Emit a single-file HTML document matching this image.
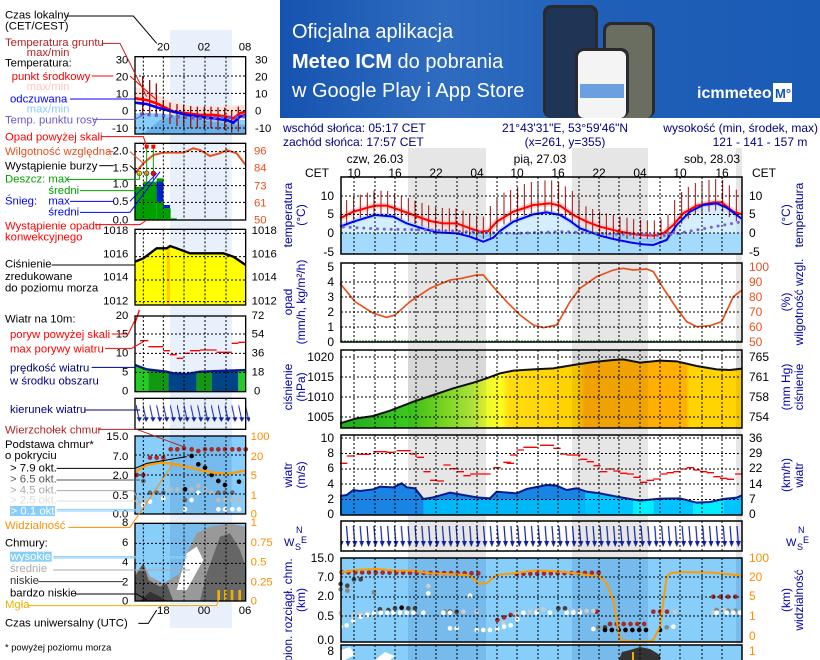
<!DOCTYPE html>
<html><head><meta charset="utf-8">
<style>
html,body{margin:0;padding:0;background:#fff;}
svg{display:block;font-family:"Liberation Sans",sans-serif;}
</style></head>
<body>
<svg width="820" height="660" viewBox="0 0 820 660" xmlns="http://www.w3.org/2000/svg">
<defs>
<linearGradient id="bg" x1="0" y1="0" x2="1" y2="0">
<stop offset="0" stop-color="#1553b0"/><stop offset="0.3" stop-color="#2f6cc0"/><stop offset="0.6" stop-color="#1f5fb8"/><stop offset="1" stop-color="#1a5bb5"/></linearGradient>
<linearGradient id="pg" x1="180" y1="0" x2="1386" y2="0" gradientUnits="userSpaceOnUse">
<stop offset="0" stop-color="#1eaa1e"/><stop offset="0.17" stop-color="#3cc81e"/><stop offset="0.25" stop-color="#78e020"/><stop offset="0.33" stop-color="#b8f040"/><stop offset="0.36" stop-color="#e8fa30"/><stop offset="0.4" stop-color="#ffff20"/><stop offset="0.42" stop-color="#ffdc10"/><stop offset="0.59" stop-color="#ffd000"/><stop offset="0.61" stop-color="#ffac00"/><stop offset="0.86" stop-color="#ffb000"/><stop offset="0.87" stop-color="#ffd400"/><stop offset="1" stop-color="#ffd400"/></linearGradient>
<pattern id="arr" x="345" y="521" width="6.85" height="30" patternUnits="userSpaceOnUse">
<line x1="1.5" y1="5" x2="3" y2="24" stroke="#1020a0" stroke-width="1.2"/>
<polygon points="0.5,20 5.5,20 3,26" fill="#1020a0"/>
</pattern>
<pattern id="larr" x="408" y="0" width="20.5" height="1400" patternUnits="userSpaceOnUse">
<line x1="0" y1="1215" x2="10" y2="1260" stroke="#1020a0" stroke-width="3"/>
<polygon points="2,1252 18,1252 10,1266" fill="#1020a0"/>
</pattern>
<clipPath id="wc"><polygon points="180,285 180,228 200,225 220,210 240,213 280,208 300,200 340,202 365,190 380,202 405,205 430,237 460,232 510,218 550,225 590,232 630,235 650,215 710,220 740,207 800,195 830,197 860,210 890,205 920,215 960,220 1000,228 1040,235 1080,242 1140,236 1200,235 1250,248 1290,246 1330,237 1370,233 1386,226 1386,285"/></clipPath>
<clipPath id="lwc"><polygon points="405,1175 405,1095 440,1108 500,1115 520,1120 560,1122 600,1115 680,1112 737,1110 737,1175"/></clipPath>
</defs>

<!-- left light band -->
<rect x="170" y="30" width="62" height="598" fill="#e8f0fc"/>
<!-- banner -->
<rect x="280" y="0" width="540" height="118" fill="url(#bg)"/>
<g fill="#fff" font-size="20">
<text x="292" y="38">Oficjalna aplikacja</text>
<text x="292" y="68"><tspan font-weight="bold">Meteo ICM</tspan> do pobrania</text>
<text x="292" y="97">w Google Play i App Store</text>
</g>
<rect x="543" y="5" width="55" height="113" rx="8" fill="#2a2a2e"/>
<rect x="546" y="8" width="49" height="110" rx="6" fill="#1f3555"/>
<rect x="603" y="22" width="52" height="96" rx="8" fill="#2a2a2e"/>
<rect x="606" y="25" width="46" height="93" rx="6" fill="#6a6e60"/>
<rect x="575" y="48" width="54" height="70" rx="8" fill="#2a2a2e"/>
<rect x="578" y="51" width="48" height="67" rx="6" fill="#f4f4f4"/>
<rect x="580" y="84" width="44" height="14" fill="#6aa0e0"/>
<text x="697" y="98" fill="#fff" font-size="16" font-weight="bold">icmmeteo</text>
<rect x="773" y="83" width="19" height="19" fill="#fff"/>
<text x="775" y="98" fill="#1553b0" font-size="13" font-weight="bold">M°</text>

<!-- main header text -->
<g font-size="12" fill="#000080">
<text x="283" y="132">wschód słońca: 05:17 CET</text>
<text x="283" y="146">zachód słońca: 17:57 CET</text>
<text x="565" y="132" text-anchor="middle">21°43'31"E, 53°59'46"N</text>
<text x="565" y="146" text-anchor="middle">(x=261,  y=355)</text>
<text x="818" y="132" text-anchor="end">wysokość (min, środek, max)</text>
<text x="760" y="146" text-anchor="middle">121 - 141 - 157 m</text>
</g>
<!-- night bands -->
<g fill="#e6e6e6">
<rect x="408" y="148" width="78" height="512"/>
<rect x="572" y="148" width="76" height="512"/>
<rect x="736" y="148" width="6" height="512"/>
</g>
<g font-size="12" fill="#000">
<text x="375" y="163" text-anchor="middle">czw, 26.03</text>
<text x="540" y="163" text-anchor="middle">pią, 27.03</text>
<text x="712" y="163" text-anchor="middle">sob, 28.03</text>
<text x="305" y="177">CET</text>
<text x="752" y="177">CET</text>
<g text-anchor="middle">
<text x="354" y="177">10</text><text x="395" y="177">16</text><text x="436" y="177">22</text><text x="477" y="177">04</text><text x="517" y="177">10</text><text x="558" y="177">16</text><text x="599" y="177">22</text><text x="640" y="177">04</text><text x="680" y="177">10</text><text x="722" y="177">16</text>
</g>
</g>

<!-- ===== TEMPERATURE PANEL ===== -->
<rect x="341" y="177" width="401" height="77" fill="#fff"/>
<rect x="408" y="177" width="78" height="77" fill="#e6e6e6"/><rect x="572" y="177" width="76" height="77" fill="#e6e6e6"/><rect x="736" y="177" width="6" height="77" fill="#e6e6e6"/>
<g transform="translate(280,115) scale(0.33333)">
<rect x="180" y="355" width="1206" height="63" fill="#87cefa"/>
<polygon points="180,418 180,343 220,328 285,308 340,313 380,333 420,346 470,360 530,363 570,373 610,388 640,376 660,356 700,328 760,306 800,300 840,308 870,326 900,348 960,370 1000,380 1050,390 1090,396 1120,398 1160,383 1190,338 1230,298 1270,278 1310,273 1340,286 1370,308 1386,320 1386,418" fill="#b8e2fc" opacity="0.6"/>
<polyline points="180,310 220,290 285,272 320,272 345,280 400,300 450,318 490,325 530,325 570,340 600,350 625,348 650,320 700,290 760,270 810,265 840,272 880,300 920,320 960,335 1020,350 1080,360 1120,362 1150,355 1180,330 1210,295 1250,272 1300,262 1325,262 1360,290 1386,298" fill="none" stroke="#ffc8c8" stroke-width="18" opacity="0.8"/>
<polyline points="180,335 220,320 285,300 340,305 380,325 420,338 470,352 530,355 570,365 610,380 640,368 660,348 700,320 760,298 800,292 840,300 870,318 900,340 960,362 1000,372 1050,382 1090,388 1120,390 1160,375 1190,330 1230,290 1270,270 1310,265 1340,278 1370,300 1386,312" fill="none" stroke="#b0dcff" stroke-width="16" opacity="0.8"/>
<path stroke="#a01010" stroke-width="3" d="M200 255V325M221 245V315M241 239V309M262 233V303M282 227V297M303 227V297M323 228V298M344 235V305M364 242V312M385 249V319M405 257V327M426 264V334M446 271V341M467 276V346M487 279V349M508 280V350M528 280V350M549 287V357M569 295V365M590 302V372M610 305V372M631 273V368M651 250V345M672 233V328M692 225V320M713 216V311M733 207V302M754 201V296M774 199V294M795 196V291M815 196V291M836 201V296M856 214V309M877 228V323M897 253V333M918 274V344M938 282V352M959 290V360M979 295V365M1000 300V370M1020 305V372M1041 308V372M1061 312V372M1082 315V372M1102 316V372M1123 316V372M1143 312V372M1164 299V369M1184 255V350M1205 231V326M1225 216V311M1246 204V299M1266 199V294M1287 195V290M1307 192V287M1328 195V290M1348 211V306M1369 224V319"/>
<polyline points="180,310 220,290 285,272 320,272 345,280 400,300 450,318 490,325 530,325 570,340 600,350 625,348 650,320 700,290 760,270 810,265 840,272 880,300 920,320 960,335 1020,350 1080,360 1120,362 1150,355 1180,330 1210,295 1250,272 1300,262 1325,262 1360,290 1386,298" fill="none" stroke="#ff0000" stroke-width="6"/>
<polyline points="180,335 220,320 285,300 340,305 380,325 420,338 470,352 530,355 570,365 610,380 640,368 660,348 700,320 760,298 800,292 840,300 870,318 900,340 960,362 1000,372 1050,382 1090,388 1120,390 1160,375 1190,330 1230,290 1270,270 1310,265 1340,278 1370,300 1386,312" fill="none" stroke="#0000ff" stroke-width="6"/>
<polyline points="190,336 300,342 450,345 600,352 700,355 850,350 1000,357 1150,362 1250,345 1386,320" fill="none" stroke="#7060e0" stroke-width="9" stroke-linecap="round" stroke-dasharray="0 20.5"/>
</g>
<path stroke="#000" stroke-dasharray="2,2" stroke-width="1" d="M354 177V254M375 177V254M395 177V254M416 177V254M436 177V254M457 177V254M477 177V254M497 177V254M517 177V254M538 177V254M558 177V254M579 177V254M599 177V254M619 177V254M640 177V254M660 177V254M680 177V254M702 177V254M722 177V254M341 196H742M341 214.5H742M341 233H742"/>
<rect x="341" y="177" width="401" height="77" fill="none" stroke="#000" stroke-width="1.5"/>

<!-- ===== PRECIP / RH ===== -->
<g transform="translate(280,115) scale(0.33333)">
<polyline points="180,505 225,560 280,595 320,607 345,600 390,560 450,520 510,495 545,490 590,480 610,480 635,510 680,560 720,600 760,630 790,638 830,630 870,560 900,520 950,485 1000,465 1030,460 1060,465 1100,462 1120,470 1150,520 1190,580 1220,620 1250,635 1290,632 1325,620 1360,545 1386,525" fill="none" stroke="#e8501e" stroke-width="5"/>
</g>
<path stroke="#000" stroke-dasharray="2,2" stroke-width="1" d="M354 263V342M375 263V342M395 263V342M416 263V342M436 263V342M457 263V342M477 263V342M497 263V342M517 263V342M538 263V342M558 263V342M579 263V342M599 263V342M619 263V342M640 263V342M660 263V342M680 263V342M702 263V342M722 263V342M341 282H742M341 297H742M341 312H742M341 327H742"/>
<line x1="341" y1="341" x2="742" y2="341" stroke="#2a8a2a" stroke-width="1" stroke-dasharray="2,1"/>
<rect x="341" y="263" width="401" height="79" fill="none" stroke="#000" stroke-width="1.5"/>

<!-- ===== PRESSURE ===== -->
<g transform="translate(280,340) scale(0.33333)">
<polygon points="180,265 180,250 230,235 280,228 330,212 400,185 460,165 520,145 580,128 620,115 660,100 700,92 760,88 820,85 880,75 940,66 1000,60 1030,58 1080,68 1140,62 1190,64 1250,78 1310,88 1350,90 1386,86 1386,265" fill="url(#pg)"/>
<polyline points="180,250 230,235 280,228 330,212 400,185 460,165 520,145 580,128 620,115 660,100 700,92 760,88 820,85 880,75 940,66 1000,60 1030,58 1080,68 1140,62 1190,64 1250,78 1310,88 1350,90 1386,86" fill="none" stroke="#111" stroke-width="6"/>
</g>
<g fill="#000" opacity="0.06"><rect x="408" y="350" width="78" height="78"/><rect x="572" y="350" width="76" height="78"/><rect x="736" y="350" width="6" height="78"/></g>
<path stroke="#000" stroke-dasharray="2,2" stroke-width="1" d="M354 350V428M375 350V428M395 350V428M416 350V428M436 350V428M457 350V428M477 350V428M497 350V428M517 350V428M538 350V428M558 350V428M579 350V428M599 350V428M619 350V428M640 350V428M660 350V428M680 350V428M702 350V428M722 350V428M341 357H742M341 377H742M341 397H742M341 417H742"/>
<rect x="341" y="350" width="401" height="78" fill="none" stroke="#000" stroke-width="1.5"/>

<!-- ===== WIND ===== -->
<g transform="translate(280,420) scale(0.33333)">
<g clip-path="url(#wc)">
<rect x="180" y="150" width="735" height="135" fill="#1a84e4"/>
<rect x="430" y="238" width="485" height="47" fill="#00b8f8"/>
<rect x="915" y="150" width="145" height="135" fill="#00c4ff"/>
<rect x="1060" y="150" width="60" height="135" fill="#00eeff"/>
<rect x="1120" y="150" width="120" height="135" fill="#00c4ff"/>
<rect x="1240" y="150" width="90" height="135" fill="#00eeff"/>
<rect x="1330" y="150" width="56" height="135" fill="#00c4ff"/>
</g>
<polyline points="180,228 200,225 220,210 240,213 280,208 300,200 340,202 365,190 380,202 405,205 430,237 460,232 510,218 550,225 590,232 630,235 650,215 710,220 740,207 800,195 830,197 860,210 890,205 920,215 960,220 1000,228 1040,235 1080,242 1140,236 1200,235 1250,248 1290,246 1330,237 1370,233 1386,226" fill="none" stroke="#0a1a90" stroke-width="6"/>
<path stroke="#ff0000" stroke-width="4" d="M180 130h22M200 108h22M230 103h22M250 103h22M280 95h22M300 95h22M320 97h22M350 92h22M370 92h22M390 102h22M410 112h22M430 155h22M450 181h22M470 183h22M490 135h22M510 146h22M530 155h22M550 167h22M570 162h22M590 162h22M610 162h22M640 143h22M670 127h22M680 130h22M690 105h22M710 90h22M730 82h22M750 82h22M780 76h22M800 76h22M820 85h22M840 102h22M860 105h22M880 105h22M900 118h22M920 125h22M940 137h22M960 155h22M980 147h22M1000 153h22M1020 160h22M1040 162h22M1060 172h22M1080 187h22M1100 181h22M1120 177h22M1140 162h22M1160 158h22M1180 155h22M1200 147h22M1220 143h22M1240 150h22M1260 155h22M1280 158h22M1300 170h22M1320 175h22M1340 178h22M1365 162h22"/>
</g>
<path stroke="#000" stroke-dasharray="2,2" stroke-width="1" d="M354 435V515M375 435V515M395 435V515M416 435V515M436 435V515M457 435V515M477 435V515M497 435V515M517 435V515M538 435V515M558 435V515M579 435V515M599 435V515M619 435V515M640 435V515M660 435V515M680 435V515M702 435V515M722 435V515M341 438H742M341 453.5H742M341 469H742M341 484H742M341 499.5H742"/>
<rect x="341" y="435" width="401" height="80" fill="none" stroke="#000" stroke-width="1.5"/>

<!-- ===== DIRECTION ===== -->
<rect x="341" y="521" width="401" height="30" fill="url(#arr)"/>
<path stroke="#000" stroke-dasharray="2,2" stroke-width="1" d="M354 521V551M375 521V551M395 521V551M416 521V551M436 521V551M457 521V551M477 521V551M497 521V551M517 521V551M538 521V551M558 521V551M579 521V551M599 521V551M619 521V551M640 521V551M660 521V551M680 521V551M702 521V551M722 521V551"/>
<rect x="341" y="521" width="401" height="30" fill="none" stroke="#000" stroke-width="1.5"/>

<!-- ===== CLOUD BASE ===== -->
<rect x="341" y="558" width="401" height="84" fill="#87cefa"/>
<g fill="#3a7ab8" opacity="0.22"><rect x="408" y="558" width="78" height="84"/><rect x="572" y="558" width="76" height="84"/><rect x="736" y="558" width="6" height="84"/></g>
<g transform="translate(280,420) scale(0.33333)" stroke-linecap="round" fill="none" stroke-width="14">
<polyline points="185,457 615,460" stroke="#a52a2a" stroke-dasharray="0 20.5"/>
<polyline points="710,462 965,458" stroke="#a52a2a" stroke-dasharray="0 20.5"/>
<polyline points="990,612 1110,612" stroke="#a52a2a" stroke-dasharray="0 20.5"/>
<polyline points="1300,530 1370,530" stroke="#a52a2a" stroke-dasharray="0 22"/>
<polyline points="1120,575 1165,575" stroke="#a52a2a" stroke-dasharray="0 20.5"/>
<path d="M652 600h0M672 592h0M692 585h0M950 575h0" stroke="#a52a2a"/>
<path d="M182 508h0M202 512h0M282 517h0M495 575h0M955 622h0M1160 622h0M1310 570h0M1345 572h0M1366 572h0" stroke="#888"/>
<path d="M182 492h0M202 497h0M222 478h0M242 478h0M300 568h0M325 570h0M345 565h0M385 565h0M405 565h0M510 575h0M530 575h0M835 565h0M855 565h0M975 622h0" stroke="#444"/>
<path d="M365 563h0" stroke="#000"/>
<polyline points="975,630 1100,630" stroke="#000" stroke-dasharray="0 20.5"/>
<path d="M1140 630h0" stroke="#000"/>
<path d="M182 580h0M220 585h0M240 583h0M262 580h0M445 498h0M550 575h0M590 575h0M670 610h0M710 580h0M750 575h0M770 573h0M790 568h0M880 573h0M900 573h0M920 573h0M940 573h0M1185 575h0M1330 570h0M1300 578h0" stroke="#ccc"/>
<path d="M182 620h0M200 616h0M220 602h0M242 590h0M262 585h0M282 580h0M302 578h0M322 578h0M340 578h0M360 578h0M380 578h0M400 578h0M430 578h0M445 520h0M490 578h0M510 578h0M510 625h0M530 625h0M570 527h0M590 630h0M610 630h0M630 630h0M652 627h0M672 620h0M692 616h0M712 598h0M730 578h0M770 578h0M810 578h0M860 578h0M880 578h0M900 578h0M940 627h0M1180 620h0M1310 578h0M1340 578h0M1360 578h0M1380 578h0" stroke="#fff"/>
<polyline points="180,458 230,450 290,447 340,452 400,452 450,460 500,462 560,465 580,475 595,492 620,490 650,465 700,460 760,452 820,453 870,458 920,465 960,470 980,490 1000,540 1010,600 1020,660 1060,665 1100,665 1120,660 1140,620 1160,470 1170,460 1200,456 1300,458 1386,467" stroke="#ff9a00" stroke-width="6" stroke-linecap="butt"/>
</g>
<path stroke="#000" stroke-dasharray="2,2" stroke-width="1" d="M354 558V642M375 558V642M395 558V642M416 558V642M436 558V642M457 558V642M477 558V642M497 558V642M517 558V642M538 558V642M558 558V642M579 558V642M599 558V642M619 558V642M640 558V642M660 558V642M680 558V642M702 558V642M722 558V642M341 577H742M341 597H742M341 616H742"/>
<rect x="341" y="558" width="401" height="84" fill="none" stroke="#000" stroke-width="1.5"/>

<!-- ===== CLOUDS main ===== -->
<rect x="341" y="645" width="401" height="20" fill="#87cefa"/>
<g fill="#3a7ab8" opacity="0.22"><rect x="408" y="645" width="78" height="15"/><rect x="572" y="645" width="76" height="15"/></g>
<polygon points="618,662 622,652 630,650 640,647 650,649 660,655 660,662" fill="#333"/>
<polygon points="341,650 350,647 355,655 345,660 341,660" fill="#fff"/>
<polygon points="375,660 385,652 395,656 390,660" fill="#fff"/>
<rect x="632" y="652" width="2" height="8" fill="#f0b000"/>
<path stroke="#000" stroke-dasharray="2,2" stroke-width="1" d="M354 645V660M375 645V660M395 645V660M416 645V660M436 645V660M457 645V660M477 645V660M497 645V660M517 645V660M538 645V660M558 645V660M579 645V660M599 645V660M619 645V660M640 645V660M660 645V660M680 645V660M702 645V660M722 645V660"/>
<polyline points="341,662 341,645 742,645 742,662" fill="none" stroke="#000" stroke-width="1.5"/>

<!-- axis labels main -->
<g font-size="12" fill="#000" text-anchor="end">
<text x="334" y="200">10</text><text x="334" y="218">5</text><text x="334" y="237">0</text><text x="334" y="256">-5</text>
<text x="334" y="271">5</text><text x="334" y="286">4</text><text x="334" y="301">3</text><text x="334" y="316">2</text><text x="334" y="331">1</text><text x="334" y="346">0</text>
<text x="334" y="361">1020</text><text x="334" y="381">1015</text><text x="334" y="401">1010</text><text x="334" y="421">1005</text>
<text x="334" y="442">10</text><text x="334" y="457">8</text><text x="334" y="472">6</text><text x="334" y="488">4</text><text x="334" y="503">2</text><text x="334" y="518">0</text>
<text x="334" y="562">15.0</text><text x="334" y="581">7.0</text><text x="334" y="600">2.0</text><text x="334" y="620">0.5</text><text x="334" y="644">0.0</text>
<text x="334" y="655">8</text>
</g>
<g font-size="12" fill="#000">
<text x="749" y="200">10</text><text x="749" y="218">5</text><text x="749" y="237">0</text><text x="749" y="256">-5</text>
<text x="749" y="361">765</text><text x="749" y="381">761</text><text x="749" y="401">758</text><text x="749" y="421">754</text>
<text x="749" y="442">36</text><text x="749" y="457">29</text><text x="749" y="472">22</text><text x="749" y="488">14</text><text x="749" y="503">7</text><text x="749" y="518">0</text>
</g>
<g font-size="12" fill="#e8501e">
<text x="749" y="271">100</text><text x="749" y="286">90</text><text x="749" y="301">80</text><text x="749" y="316">70</text><text x="749" y="331">60</text><text x="749" y="346">50</text>
</g>
<g font-size="12" fill="#ff8c00">
<text x="749" y="562">100</text><text x="749" y="581">20</text><text x="749" y="600">5</text><text x="749" y="620">1</text><text x="749" y="640">0</text><text x="749" y="655">1</text>
</g>
<!-- rotated axis titles -->
<g font-size="12" fill="#0000a0" text-anchor="middle">
<text transform="translate(292,215) rotate(-90)">temperatura</text>
<text transform="translate(305,215) rotate(-90)">(°C)</text>
<text transform="translate(292,302) rotate(-90)">opad</text>
<text transform="translate(305,302) rotate(-90)">(mm/h, kg/m²/h)</text>
<text transform="translate(292,387) rotate(-90)">ciśnienie</text>
<text transform="translate(305,387) rotate(-90)">(hPa)</text>
<text transform="translate(292,475) rotate(-90)">wiatr</text>
<text transform="translate(305,475) rotate(-90)">(m/s)</text>
<text transform="translate(292,610) rotate(-90)">pion. rozciągł. chm.</text>
<text transform="translate(305,600) rotate(-90)">(km)</text>
<text transform="translate(790,215) rotate(-90)">(°C)</text>
<text transform="translate(803,215) rotate(-90)">temperatura</text>
<text transform="translate(790,302) rotate(-90)">(%)</text>
<text transform="translate(803,302) rotate(-90)">wilgotność wzgl.</text>
<text transform="translate(790,387) rotate(-90)">(mm Hg)</text>
<text transform="translate(803,387) rotate(-90)">ciśnienie</text>
<text transform="translate(790,475) rotate(-90)">(km/h)</text>
<text transform="translate(803,475) rotate(-90)">wiatr</text>
<text transform="translate(790,600) rotate(-90)">(km)</text>
<text transform="translate(803,600) rotate(-90)">widzialność</text>
</g>
<g font-size="11" fill="#0000a0">
<text x="284" y="546">W</text><text x="295" y="550" font-size="9">S</text><text x="296" y="533" font-size="9">N</text><text x="301" y="543" font-size="9">E</text>
<text x="786" y="546">W</text><text x="797" y="550" font-size="9">S</text><text x="798" y="533" font-size="9">N</text><text x="803" y="543" font-size="9">E</text>
</g>

<!-- ===== LEFT PANELS (zoom coords x3) ===== -->
<g transform="scale(0.33333)">
<!-- temp -->
<rect x="405" y="170" width="332" height="232" fill="#fff"/>
<rect x="510" y="170" width="185" height="232" fill="#e8f0fc"/>
<polygon points="405,402 405,340 480,340 520,345 600,350 737,360 737,402" fill="#87cefa"/>
<polygon points="430,402 480,360 530,345 600,360 680,370 737,375 737,402" fill="#6ab0e8"/>
<polygon points="405,260 440,270 500,300 560,318 640,320 737,315 737,345 640,350 560,345 500,330 405,305" fill="#ffe0d8"/>
<path stroke="#a01010" stroke-width="4" d="M428 228V338M449 240V345M469 250V350M490 300V360M510 308V372M531 312V378M551 314V380M572 318V385M592 320V385M613 320V385M633 320V385M654 322V390M674 323V390M695 330V398M715 320V395"/>
<polyline points="405,295 440,300 470,310 500,325 520,335 560,340 600,345 640,345 680,350 700,355 720,340 737,335" fill="none" stroke="#ff0000" stroke-width="8"/>
<polyline points="405,308 440,312 480,325 520,335 560,345 600,350 640,355 680,360 700,368 720,350 737,345" fill="none" stroke="#0000ff" stroke-width="8"/>
<polyline points="420,342 600,355 737,350" fill="none" stroke="#6a5acd" stroke-width="10" stroke-dasharray="10 12"/>
<path stroke="#000" stroke-dasharray="6,6" stroke-width="3" d="M430 170V402M490 170V402M552 170V402M615 170V402M678 170V402M405 228H737M405 280H737M405 332H737M405 384H737"/>
<rect x="405" y="170" width="332" height="232" fill="none" stroke="#000" stroke-width="4"/>
<!-- precip -->
<rect x="405" y="430" width="332" height="230" fill="#fff"/>
<rect x="510" y="430" width="185" height="230" fill="#e8f0fc"/>
<g fill="#00a000"><rect x="405" y="560" width="25" height="100"/><rect x="430" y="545" width="40" height="115"/><rect x="470" y="535" width="20" height="125"/><rect x="490" y="625" width="22" height="35"/><rect x="512" y="655" width="18" height="5"/></g>
<rect x="470" y="545" width="20" height="60" fill="#0020d0"/><rect x="490" y="615" width="20" height="10" fill="#0020d0"/>
<polyline points="405,520 430,490 460,465 490,458 550,458 580,445 600,450 630,468 660,460 680,450 710,460 737,495" fill="none" stroke="#e8501e" stroke-width="6"/>
<path stroke="#00a000" stroke-width="3" d="M440 440V540M460 440V540"/>
<rect x="434" y="434" width="12" height="12" fill="#ff0000"/><rect x="454" y="434" width="12" height="12" fill="#ff0000"/>
<circle cx="418" cy="520" r="7" fill="#ffd000" stroke="#333" stroke-width="2"/><circle cx="440" cy="520" r="7" fill="#ff9000" stroke="#333" stroke-width="2"/><circle cx="460" cy="520" r="7" fill="#ff0000" stroke="#333" stroke-width="2"/>
<line x1="420" y1="660" x2="480" y2="660" stroke="#ff0000" stroke-width="4" stroke-dasharray="6,6"/>
<path stroke="#000" stroke-dasharray="6,6" stroke-width="3" d="M430 430V660M490 430V660M552 430V660M615 430V660M678 430V660M405 455H737M405 505H737M405 557H737M405 607H737"/>
<rect x="405" y="430" width="332" height="230" fill="none" stroke="#000" stroke-width="4"/>
<!-- pressure -->
<rect x="405" y="688" width="332" height="227" fill="#fff"/>
<rect x="510" y="688" width="185" height="227" fill="#e8f0fc"/>
<polygon points="405,915 405,785 430,775 470,745 500,745 510,738 530,745 570,760 670,760 700,770 737,795 737,915" fill="#ffff00"/>
<rect x="500" y="742" width="10" height="173" fill="#ffd000"/>
<polyline points="405,785 430,775 470,745 500,745 510,738 530,745 570,760 670,760 700,770 737,795" fill="none" stroke="#000" stroke-width="7"/>
<path stroke="#000" stroke-dasharray="6,6" stroke-width="3" d="M430 688V915M490 688V915M552 688V915M615 688V915M678 688V915M405 700H737M405 770H737M405 840H737M405 905H737"/>
<rect x="405" y="688" width="332" height="227" fill="none" stroke="#000" stroke-width="4"/>
<!-- wind (O=960) -->
<g clip-path="url(#lwc)">
<rect x="405" y="1060" width="40" height="115" fill="#22cc22"/><rect x="445" y="1060" width="60" height="115" fill="#119911"/><rect x="505" y="1060" width="85" height="115" fill="#004488"/><rect x="590" y="1060" width="45" height="115" fill="#119911"/><rect x="635" y="1060" width="80" height="115" fill="#004488"/><rect x="715" y="1060" width="22" height="115" fill="#22cc22"/>
</g>
<polyline points="405,1095 440,1108 500,1115 520,1120 560,1122 600,1115 680,1112 737,1110" fill="none" stroke="#0a1a90" stroke-width="7"/>
<path stroke="#ff0000" stroke-width="4" d="M420 1022H445M445 1040H490M490 1052H510M510 1064H530M530 1075H550M550 1060H570M570 1052H600M600 1050H650M650 1057H695M695 1030H715M715 1027H737M405 970L418 930"/>
<path stroke="#000" stroke-dasharray="6,6" stroke-width="3" d="M430 948V1175M490 948V1175M552 948V1175M615 948V1175M678 948V1175M405 1002H737M405 1060H737M405 1117H737"/>
<rect x="405" y="948" width="332" height="227" fill="none" stroke="#000" stroke-width="4"/>
<!-- direction -->
<rect x="405" y="1195" width="345" height="93" fill="url(#larr)"/>
<path stroke="#000" stroke-dasharray="6,6" stroke-width="3" d="M430 1195V1288M490 1195V1288M552 1195V1288M615 1195V1288M678 1195V1288"/>
<rect x="405" y="1195" width="332" height="93" fill="none" stroke="#000" stroke-width="4"/>
<!-- cloud base -->
<rect x="405" y="1308" width="332" height="234" fill="#87cefa"/>
<rect x="510" y="1308" width="185" height="234" fill="#3a7ab8" opacity="0.22"/>
<g stroke-linecap="round" stroke-width="14" fill="none">
<path stroke="#a52a2a" d="M410 1425h0M430 1425h0M450 1373h0M470 1373h0M490 1373h0M512 1348h0M532 1348h0M552 1345h0M575 1348h0M595 1353h0M615 1348h0M635 1348h0M655 1348h0M675 1348h0M697 1348h0M717 1348h0M737 1348h0"/>
<path stroke="#666" d="M430 1443h0M450 1478h0M470 1478h0M490 1478h0M555 1500h0M655 1478h0M675 1478h0M697 1478h0"/>
<path stroke="#000" d="M575 1368h0M595 1393h0M615 1403h0M635 1425h0M655 1443h0M675 1455h0M717 1445h0M555 1468h0"/>
<path stroke="#bbb" d="M415 1512h0M432 1500h0M512 1468h0M532 1468h0M575 1468h0M595 1458h0M615 1468h0M635 1478h0M655 1500h0M675 1500h0M697 1500h0M717 1500h0"/>
<path stroke="#fff" d="M430 1515h0M450 1505h0M490 1495h0M575 1500h0M555 1528h0M655 1528h0M675 1528h0M697 1528h0M717 1528h0M595 1478h0"/>
</g>
<polyline points="405,1415 440,1395 480,1388 520,1392 560,1400 600,1410 640,1418 680,1422 737,1412" fill="none" stroke="#ff9a00" stroke-width="7"/>
<path stroke="#000" stroke-dasharray="6,6" stroke-width="3" d="M430 1308V1542M490 1308V1542M552 1308V1542M615 1308V1542M678 1308V1542M405 1365H737M405 1425H737M405 1482H737"/>
<rect x="405" y="1308" width="332" height="234" fill="none" stroke="#000" stroke-width="4"/>
<!-- clouds -->
<rect x="405" y="1570" width="332" height="233" fill="#87cefa"/>
<rect x="510" y="1570" width="185" height="233" fill="#3a7ab8" opacity="0.22"/>
<polygon points="405,1803 405,1720 430,1690 450,1730 490,1750 540,1720 560,1660 590,1600 630,1580 660,1575 700,1572 737,1580 737,1803" fill="#999"/>
<polygon points="530,1770 560,1660 590,1640 610,1680 560,1770" fill="#fff"/>
<polygon points="600,1803 620,1720 660,1610 690,1600 720,1650 737,1700 737,1803" fill="#666"/>
<polygon points="405,1803 405,1730 430,1690 445,1740 480,1760 500,1750 520,1803" fill="#555"/>
<polygon points="420,1803 450,1775 480,1790 500,1803" fill="#333"/>
<g fill="#f0b000"><rect x="652" y="1770" width="8" height="33"/><rect x="672" y="1770" width="8" height="33"/><rect x="692" y="1770" width="8" height="33"/><rect x="715" y="1770" width="8" height="33"/></g>
<path stroke="#000" stroke-dasharray="6,6" stroke-width="3" d="M430 1570V1803M490 1570V1803M552 1570V1803M615 1570V1803M678 1570V1803M405 1630H737M405 1690H737M405 1750H737"/>
<rect x="405" y="1570" width="332" height="233" fill="none" stroke="#000" stroke-width="4"/>
</g>

<!-- left texts -->
<g transform="scale(0.33333)" font-size="34">
<g fill="#000">
<text x="15" y="55">Czas lokalny</text><text x="15" y="88">(CET/CEST)</text>
<text x="490" y="152" text-anchor="middle">20</text><text x="612" y="152" text-anchor="middle">02</text><text x="735" y="152" text-anchor="middle">08</text>
<text x="15" y="200">Temperatura:</text>
<text x="15" y="508">Wystąpienie burzy</text>
<text x="15" y="802">Ciśnienie</text><text x="15" y="840">zredukowane</text><text x="15" y="874">do poziomu morza</text>
<text x="15" y="967">Wiatr na 10m:</text>
<g text-anchor="end">
<text x="385" y="190">30</text><text x="385" y="242">20</text><text x="385" y="293">10</text><text x="385" y="343">0</text><text x="385" y="396">-10</text>
<text x="385" y="463">2.0</text><text x="385" y="515">1.5</text><text x="385" y="563">1.0</text><text x="385" y="615">0.5</text><text x="385" y="670">0.0</text>
<text x="385" y="702">1018</text><text x="385" y="772">1016</text><text x="385" y="842">1014</text><text x="385" y="914">1012</text>
<text x="385" y="957">20</text>
</g>
<text x="765" y="190">30</text><text x="765" y="242">20</text><text x="765" y="293">10</text><text x="765" y="343">0</text><text x="765" y="396">-10</text>
<text x="755" y="702">1018</text><text x="755" y="772">1016</text><text x="755" y="842">1014</text><text x="755" y="914">1012</text>
<text x="755" y="957">72</text>
</g>
<g fill="#e8501e"><text x="762" y="463">96</text><text x="762" y="515">84</text><text x="762" y="568">73</text><text x="762" y="620">61</text><text x="762" y="670">50</text></g>
<text x="15" y="138" fill="#b22222">Temperatura gruntu</text><text x="80" y="168" fill="#b22222">max/min</text>
<text x="35" y="240" fill="#ff0000">punkt środkowy</text>
<text x="80" y="270" fill="#ffc8c0">max/min</text>
<text x="30" y="307" fill="#0000ff">odczuwana</text>
<text x="80" y="337" fill="#87cefa">max/min</text>
<text x="15" y="370" fill="#6a5acd">Temp. punktu rosy</text>
<text x="15" y="422" fill="#ff0000">Opad powyżej skali</text>
<text x="15" y="465" fill="#e8501e">Wilgotność względna</text>
<text x="15" y="548" fill="#00a000">Deszcz:  max</text><text x="145" y="582" fill="#00a000">średni</text>
<text x="15" y="614" fill="#0000ff">Śnieg:</text><text x="145" y="614" fill="#0000ff">max</text><text x="145" y="647" fill="#0000ff">średni</text>
<text x="15" y="688" fill="#ff0000">Wystąpienie opadu</text><text x="15" y="722" fill="#ff0000">konwekcyjnego</text>
<g stroke-width="3" fill="none">
<polyline points="200,48 400,48 470,130" stroke="#000"/>
<polyline points="305,130 360,130 440,290" stroke="#b22222"/>
<polyline points="275,228 340,228" stroke="#ff0000"/><polyline points="390,228 470,300" stroke="#ff0000"/>
<polyline points="210,297 405,297" stroke="#0000ff"/>
<polyline points="280,358 405,358 440,340" stroke="#6a5acd"/>
<polyline points="305,410 430,410 440,440" stroke="#ff0000"/>
<polyline points="320,455 340,455" stroke="#e8501e"/><polyline points="390,455 430,490" stroke="#e8501e"/>
<polyline points="298,497 340,497" stroke="#000"/><polyline points="390,497 410,515" stroke="#000"/>
<polyline points="200,538 418,538 418,520" stroke="#00a000"/>
<polyline points="240,572 440,572 440,520" stroke="#00a000"/>
<polyline points="210,604 340,604" stroke="#0000ff"/><polyline points="390,604 470,520" stroke="#0000ff"/>
<polyline points="240,637 390,637 480,515" stroke="#0000ff"/>
<polyline points="285,674 420,674 440,660" stroke="#ff0000"/>
<polyline points="155,795 405,795 405,785" stroke="#000"/>
</g>
</g>
<g transform="translate(0,320) scale(0.33333)" font-size="34">
<g fill="#000" text-anchor="end">
<text x="385" y="52">15</text><text x="385" y="110">10</text><text x="385" y="167">5</text><text x="385" y="224">0</text>
<text x="385" y="360">15.0</text><text x="385" y="420">7.0</text><text x="385" y="477">2.0</text><text x="385" y="537">0.5</text><text x="385" y="592">0.0</text>
<text x="385" y="618">8</text><text x="385" y="678">6</text><text x="385" y="737">4</text><text x="385" y="797">2</text><text x="385" y="854">0</text>
</g>
<g fill="#000"><text x="755" y="52">54</text><text x="755" y="110">36</text><text x="755" y="167">18</text><text x="762" y="224">0</text></g>
<g fill="#ff8c00"><text x="752" y="360">100</text><text x="752" y="420">20</text><text x="752" y="477">5</text><text x="752" y="537">1</text><text x="752" y="592">0</text>
<text x="752" y="618">1</text><text x="752" y="678">0.75</text><text x="752" y="737">0.5</text><text x="752" y="797">0.25</text><text x="752" y="854">0</text></g>
<text x="30" y="54" fill="#ff0000">poryw powyżej skali</text>
<text x="30" y="97" fill="#ff0000">max porywy wiatru</text>
<text x="30" y="154" fill="#000080">prędkość wiatru</text><text x="30" y="194" fill="#000080">w środku obszaru</text>
<text x="30" y="279" fill="#000080">kierunek wiatru</text>
<text x="15" y="340" fill="#b22222">Wierzchołek chmur</text>
<text x="15" y="384" fill="#000">Podstawa chmur*</text><text x="15" y="417" fill="#000">o pokryciu</text>
<text x="30" y="455" fill="#000">&gt; 7.9 okt.</text>
<text x="30" y="487" fill="#555">&gt; 6.5 okt.</text>
<text x="30" y="520" fill="#aaa">&gt; 4.5 okt.</text>
<text x="30" y="550" fill="#ddd">&gt; 2.5 okt.</text>
<rect x="30" y="558" width="135" height="30" fill="#87cefa"/>
<text x="32" y="584" fill="#fff">&gt; 0.1 okt.</text>
<text x="15" y="627" fill="#ff8c00">Widzialność</text>
<text x="15" y="680" fill="#000">Chmury:</text>
<rect x="30" y="695" width="125" height="30" fill="#87cefa"/>
<text x="32" y="720" fill="#fff">wysokie</text>
<text x="30" y="756" fill="#aaa">średnie</text>
<text x="30" y="792" fill="#333">niskie</text>
<text x="30" y="829" fill="#000">bardzo niskie</text>
<text x="15" y="864" fill="#f0b000">Mgła</text>
<text x="490" y="882" text-anchor="middle" fill="#000">18</text><text x="612" y="882" text-anchor="middle" fill="#000">00</text><text x="735" y="882" text-anchor="middle" fill="#000">06</text>
<text x="15" y="919" fill="#000">Czas uniwersalny (UTC)</text>
<text x="15" y="992" fill="#000" font-size="28">* powyżej poziomu morza</text>
<g stroke-width="3" fill="none">
<polyline points="335,42 385,42 405,0" stroke="#ff0000"/>
<polyline points="315,85 395,85 430,65" stroke="#ff0000"/>
<polyline points="275,142 405,142" stroke="#000080"/>
<polyline points="255,270 420,270" stroke="#000080"/>
<polyline points="295,328 410,328 550,380" stroke="#b22222"/>
<polyline points="170,445 405,445 440,430 560,410" stroke="#000"/>
<polyline points="170,480 420,480" stroke="#555"/>
<polyline points="170,512 400,512 420,550" stroke="#aaa"/>
<polyline points="170,543 410,543" stroke="#ddd"/>
<polyline points="170,568 420,568" stroke="#87cefa"/><polyline points="170,573 420,573" stroke="#87cefa"/>
<polyline points="205,622 390,622 520,430" stroke="#ff8c00"/>
<polyline points="160,710 560,710" stroke="#87cefa"/><polyline points="160,714 560,714" stroke="#87cefa"/>
<polyline points="160,750 570,750" stroke="#aaa"/>
<polyline points="115,785 370,785" stroke="#333"/>
<polyline points="225,822 410,822 440,840" stroke="#000"/>
<polyline points="85,857 650,857 655,840" stroke="#f0b000"/>
<polyline points="415,910 445,910 470,870" stroke="#000"/>
</g>
</g>
</svg>
</body></html>
